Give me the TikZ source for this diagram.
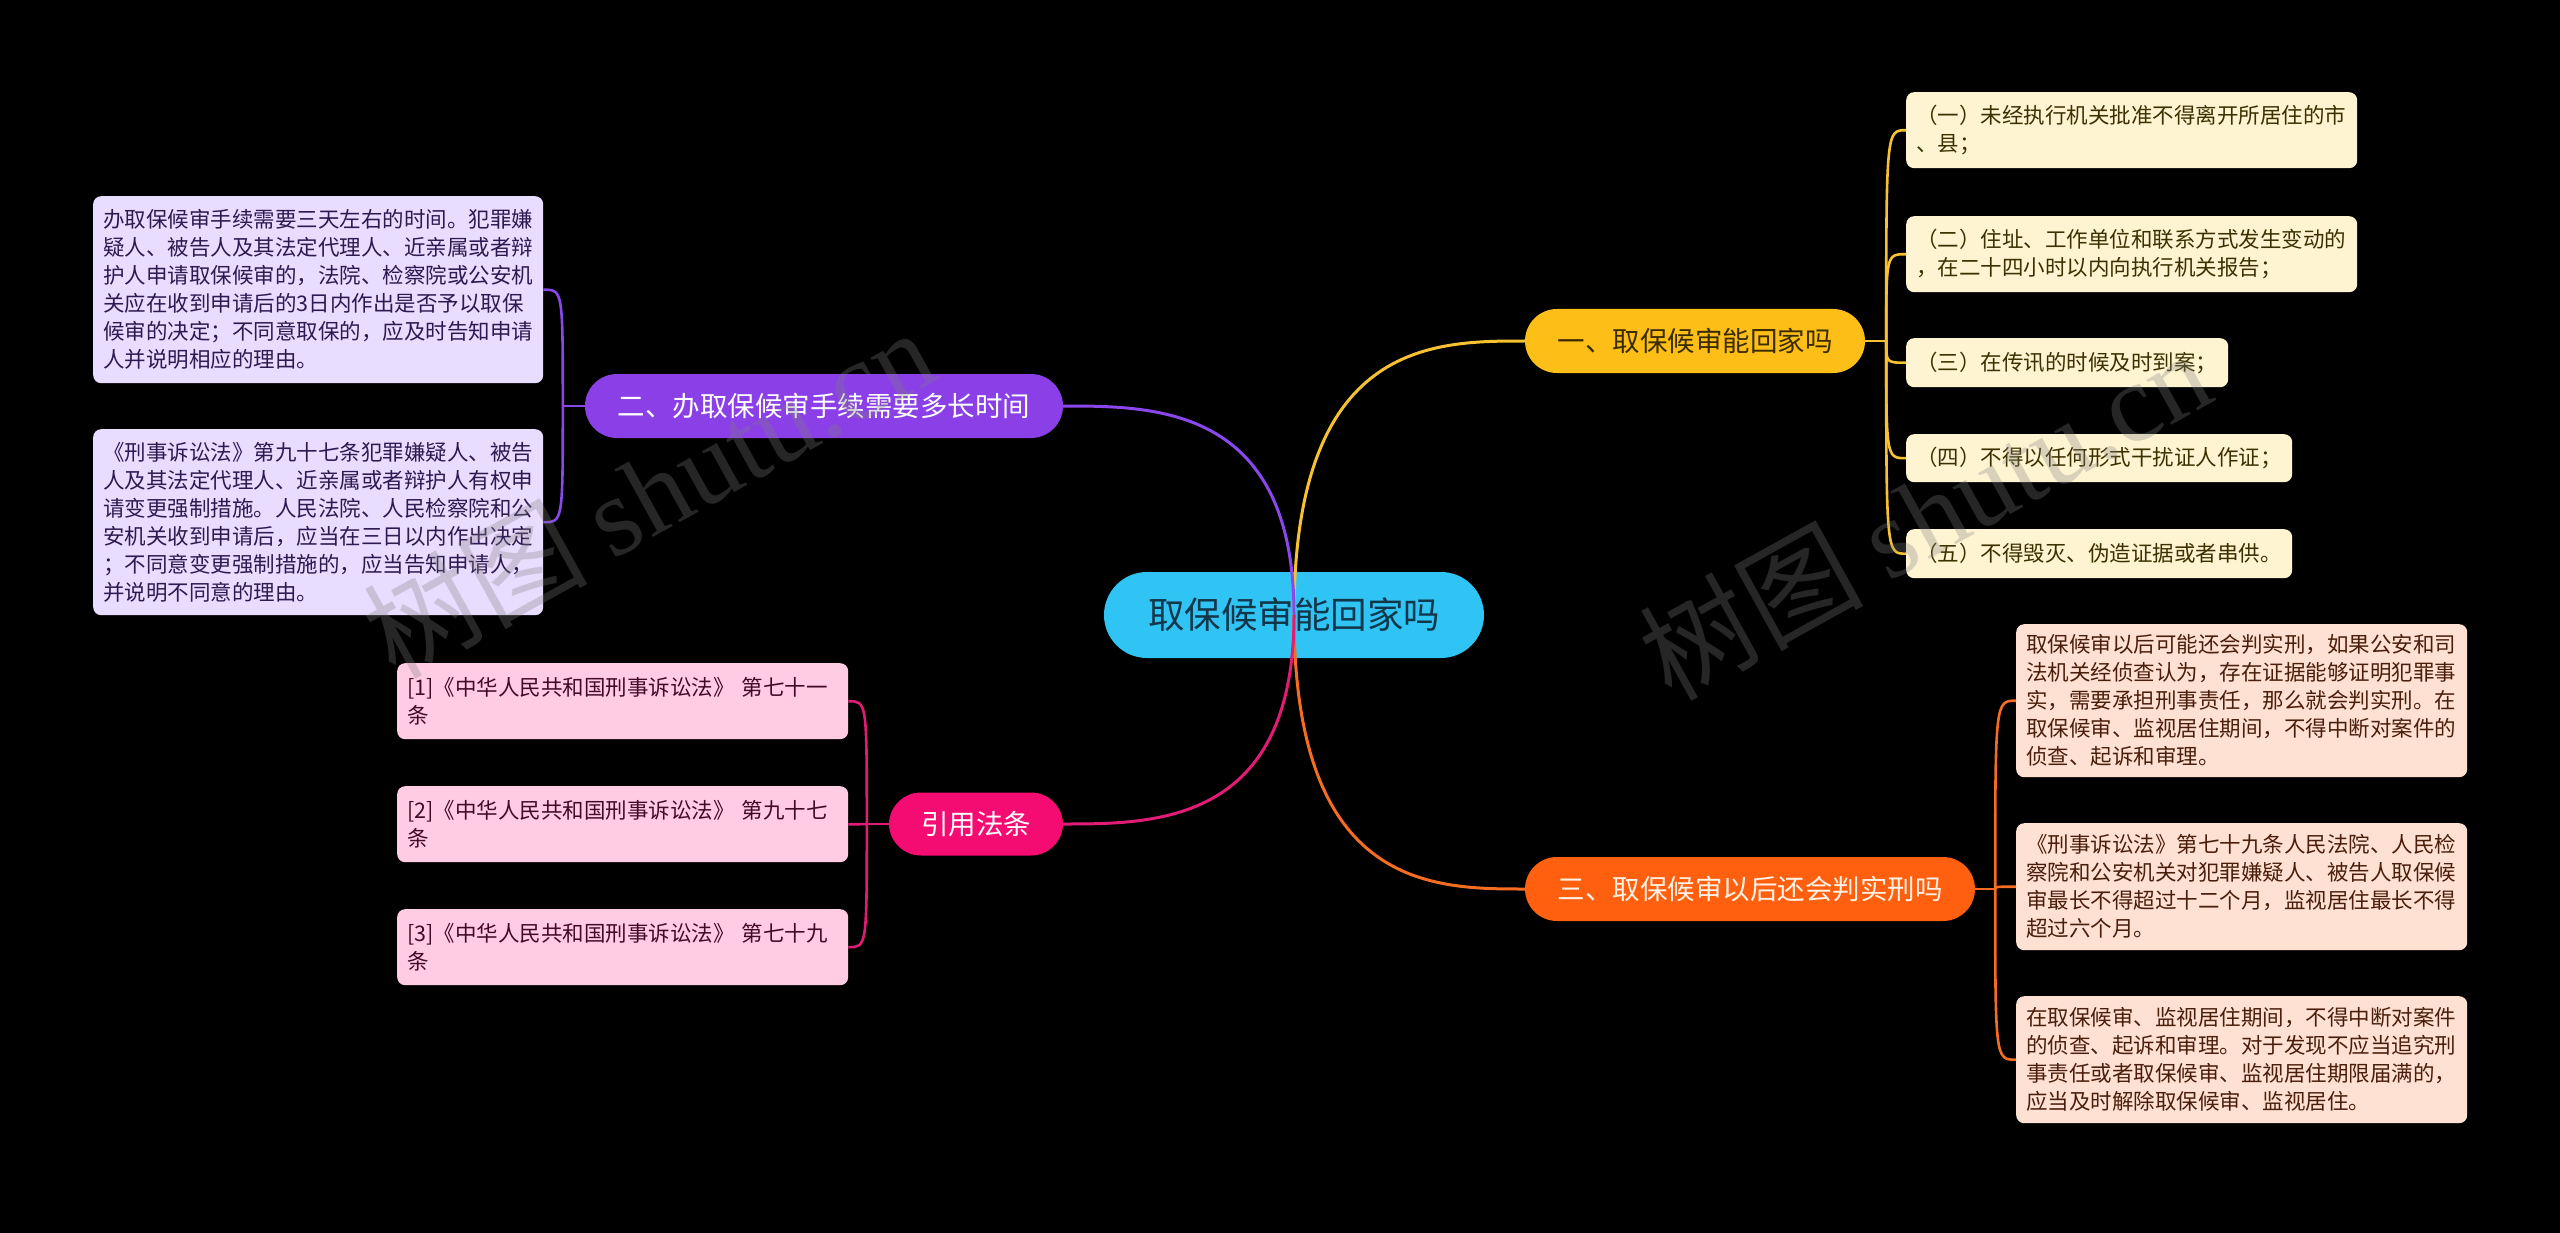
\documentclass[tikz,border=0pt]{standalone}
\usepackage{fontspec}
\setmainfont{Noto Sans CJK SC}
\newfontfamily\wmlatin{Liberation Serif}
\usetikzlibrary{calc}
\definecolor{cenfill}{HTML}{30C4F4}
\definecolor{centext}{HTML}{12364A}
\definecolor{bAfill}{HTML}{FDBF17}
\definecolor{bAtext}{HTML}{3B2C00}
\definecolor{bAline}{HTML}{F7C232}
\definecolor{bBfill}{HTML}{8A40E6}
\definecolor{bBline}{HTML}{8A47EB}
\definecolor{bCfill}{HTML}{FF6010}
\definecolor{bCtext}{HTML}{FFF1E4}
\definecolor{bCline}{HTML}{F46D22}
\definecolor{bDfill}{HTML}{F50C72}
\definecolor{bDline}{HTML}{E21C74}
\definecolor{lAfill}{HTML}{FFF4D2}
\definecolor{lAtext}{HTML}{3D3000}
\definecolor{lBfill}{HTML}{E9DDFF}
\definecolor{lBtext}{HTML}{2C1A52}
\definecolor{lCfill}{HTML}{FFE1D3}
\definecolor{lCtext}{HTML}{4A1E0A}
\definecolor{lDfill}{HTML}{FFCCE4}
\definecolor{lDtext}{HTML}{420A26}
\begin{document}
\begin{tikzpicture}[x=1pt,y=-1pt,
  central/.style={rectangle, rounded corners=43pt, minimum width=380pt, minimum height=86pt, inner sep=0pt, fill=cenfill, text=centext, font=\fontsize{36.5}{40}\selectfont},
  branch/.style={rectangle, rounded corners=32pt, minimum height=64pt, inner sep=0pt, font=\fontsize{27.5}{30}\selectfont},
  leaf/.style={rectangle, rounded corners=8pt, anchor=north west, inner xsep=10pt, inner ysep=0pt, align=left, font=\fontsize{21.5}{28}\selectfont},
  mainline/.style={line width=3pt},
  subline/.style={line width=2.6pt},
  wm/.style={text=gray, opacity=0.3, font=\fontsize{112}{112}\selectfont, inner sep=0pt}
]
\fill[black] (0,0) rectangle (2560,1233);
\useasboundingbox (0,0) rectangle (2560,1233);

% central node
\node[central] (cen) at (1294,615) {取保候审能回家吗};

% branch nodes
\node[branch, minimum width=340pt, fill=bAfill, text=bAtext] (bA) at (1695,341) {一、取保候审能回家吗};
\node[branch, minimum width=478pt, fill=bBfill, text=white] (bB) at (824,406) {二、办取保候审手续需要多长时间};
\node[branch, minimum width=450pt, fill=bCfill, text=bCtext] (bC) at (1750,889) {三、取保候审以后还会判实刑吗};
\node[branch, minimum width=174pt, minimum height=63pt, fill=bDfill, text=white] (bD) at (976,824) {引用法条};

% main curves
\draw[mainline, bAline] (cen.center) .. controls (cen.center |- bA.west) and ($(cen.center |- bA.west)!0.6!(bA.west)$) .. (bA.west);
\draw[mainline, bBline] (cen.center) .. controls (cen.center |- bB.east) and ($(cen.center |- bB.east)!0.6!(bB.east)$) .. (bB.east);
\draw[mainline, bCline] (cen.center) .. controls (cen.center |- bC.west) and ($(cen.center |- bC.west)!0.6!(bC.west)$) .. (bC.west);
\draw[mainline, bDline] (cen.center) .. controls (cen.center |- bD.east) and ($(cen.center |- bD.east)!0.6!(bD.east)$) .. (bD.east);

% leaves of branch A
\node[leaf, fill=lAfill, text=lAtext, text width=431pt, minimum height=76pt] (a1) at (1906,92) {（一）未经执行机关批准不得离开所居住的市\\、县；};
\node[leaf, fill=lAfill, text=lAtext, text width=431pt, minimum height=76pt] (a2) at (1906,216) {（二）住址、工作单位和联系方式发生变动的\\，在二十四小时以内向执行机关报告；};
\node[leaf, fill=lAfill, text=lAtext, text width=302pt, minimum height=49pt] (a3) at (1906,338) {（三）在传讯的时候及时到案；};
\node[leaf, fill=lAfill, text=lAtext, text width=366pt, minimum height=48pt] (a4) at (1906,434) {（四）不得以任何形式干扰证人作证；};
\node[leaf, fill=lAfill, text=lAtext, text width=366pt, minimum height=49pt] (a5) at (1906,529) {（五）不得毁灭、伪造证据或者串供。};

% leaves of branch B
\node[leaf, fill=lBfill, text=lBtext, text width=430pt, minimum height=187pt] (b1) at (93,196) {办取保候审手续需要三天左右的时间。犯罪嫌\\疑人、被告人及其法定代理人、近亲属或者辩\\护人申请取保候审的，法院、检察院或公安机\\关应在收到申请后的3日内作出是否予以取保\\候审的决定；不同意取保的，应及时告知申请\\人并说明相应的理由。};
\node[leaf, fill=lBfill, text=lBtext, text width=430pt, minimum height=186pt] (b2) at (93,429) {《刑事诉讼法》第九十七条犯罪嫌疑人、被告\\人及其法定代理人、近亲属或者辩护人有权申\\请变更强制措施。人民法院、人民检察院和公\\安机关收到申请后，应当在三日以内作出决定\\；不同意变更强制措施的，应当告知申请人，\\并说明不同意的理由。};

% leaves of branch C
\node[leaf, fill=lCfill, text=lCtext, text width=431pt, minimum height=153pt] (c1) at (2016,624) {取保候审以后可能还会判实刑，如果公安和司\\法机关经侦查认为，存在证据能够证明犯罪事\\实，需要承担刑事责任，那么就会判实刑。在\\取保候审、监视居住期间，不得中断对案件的\\侦查、起诉和审理。};
\node[leaf, fill=lCfill, text=lCtext, text width=431pt, minimum height=127pt] (c2) at (2016,823) {《刑事诉讼法》第七十九条人民法院、人民检\\察院和公安机关对犯罪嫌疑人、被告人取保候\\审最长不得超过十二个月，监视居住最长不得\\超过六个月。};
\node[leaf, fill=lCfill, text=lCtext, text width=431pt, minimum height=127pt] (c3) at (2016,996) {在取保候审、监视居住期间，不得中断对案件\\的侦查、起诉和审理。对于发现不应当追究刑\\事责任或者取保候审、监视居住期限届满的，\\应当及时解除取保候审、监视居住。};

% leaves of branch D
\node[leaf, fill=lDfill, text=lDtext, text width=431pt, minimum height=76pt] (d1) at (397,663) {[1]《中华人民共和国刑事诉讼法》 第七十一\\条};
\node[leaf, fill=lDfill, text=lDtext, text width=431pt, minimum height=76pt] (d2) at (397,786) {[2]《中华人民共和国刑事诉讼法》 第九十七\\条};
\node[leaf, fill=lDfill, text=lDtext, text width=431pt, minimum height=76pt] (d3) at (397,909) {[3]《中华人民共和国刑事诉讼法》 第七十九\\条};

% junctions
\coordinate (jA) at ($(bA.east)+(21,0)$);
\coordinate (jB) at ($(bB.west)+(-22,0)$);
\coordinate (jC) at ($(bC.east)+(20,0)$);
\coordinate (jD) at ($(bD.west)+(-22,0)$);

\draw[subline, bAline] (bA.east) -- (jA);
\foreach \n in {a1,a2,a3,a4,a5}
  \draw[subline, bAline] (jA) .. controls (jA |- \n.west) and (jA |- \n.west) .. (\n.west);
\draw[subline, bBline] (bB.west) -- (jB);
\foreach \n in {b1,b2}
  \draw[subline, bBline] (jB) .. controls (jB |- \n.east) and (jB |- \n.east) .. (\n.east);
\draw[subline, bCline] (bC.east) -- (jC);
\foreach \n in {c1,c2,c3}
  \draw[subline, bCline] (jC) .. controls (jC |- \n.west) and (jC |- \n.west) .. (\n.west);
\draw[subline, bDline] (bD.west) -- (jD);
\foreach \n in {d1,d2,d3}
  \draw[subline, bDline] (jD) .. controls (jD |- \n.east) and (jD |- \n.east) .. (\n.east);

% watermarks
\node[wm, rotate=29] (wm1) at (648,492) {树图 {\wmlatin shutu.cn}};
\node[wm, rotate=29] (wm2) at (1924,514) {树图 {\wmlatin shutu.cn}};
\end{tikzpicture}
\end{document}
